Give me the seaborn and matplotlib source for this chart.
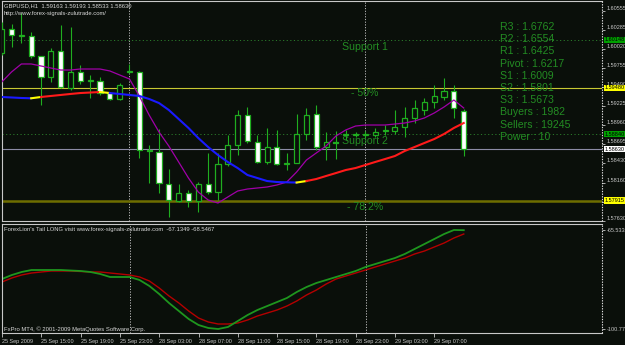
import numpy as np
import pandas as pd
import matplotlib
matplotlib.use("Agg")
import matplotlib.pyplot as plt
import matplotlib.transforms as mtrans
import seaborn as sns

# ---------------- data (GBPUSD H1) ----------------
bar_times = (list(pd.date_range("2009-09-25 11:00", "2009-09-25 23:00", freq="h")) +
             list(pd.date_range("2009-09-28 00:00", "2009-09-28 23:00", freq="h")) +
             list(pd.date_range("2009-09-29 00:00", "2009-09-29 10:00", freq="h")))

opens = [1.59967, 1.60301, 1.60203, 1.60203, 1.59925, 1.59633, 1.59995, 1.59480, 1.59703, 1.59577,
         1.59577, 1.59410, 1.59327, 1.59703, 1.59703, 1.58617, 1.58590, 1.58144, 1.57908, 1.58019,
         1.57908, 1.58144, 1.58033, 1.58423, 1.58687, 1.59104, 1.58729, 1.58451, 1.58659, 1.58423,
         1.58437, 1.58840, 1.59118, 1.58659, 1.58729, 1.58826, 1.58826, 1.58826, 1.58826, 1.58882,
         1.58882, 1.58937, 1.59063, 1.59174, 1.59285, 1.59355, 1.59438, 1.59163]
highs = [1.60398, 1.60370, 1.60523, 1.60259, 1.59925, 1.60037, 1.60357, 1.60329, 1.59800, 1.59661,
         1.59633, 1.59424, 1.59550, 1.59814, 1.59717, 1.58687, 1.58910, 1.58353, 1.58144, 1.58061,
         1.58172, 1.58576, 1.58576, 1.58826, 1.59174, 1.59216, 1.58826, 1.58924, 1.58896, 1.58576,
         1.59118, 1.59202, 1.59243, 1.58868, 1.58882, 1.58896, 1.58868, 1.58882, 1.58924, 1.58965,
         1.59174, 1.59216, 1.59313, 1.59341, 1.59522, 1.59619, 1.59522, 1.59193]
lows = [1.59939, 1.60050, 1.60106, 1.59897, 1.59243, 1.59563, 1.59480, 1.59452, 1.59536, 1.59341,
        1.59383, 1.59313, 1.59313, 1.59689, 1.58506, 1.58158, 1.58019, 1.57685, 1.57894, 1.57824,
        1.57755, 1.58005, 1.57922, 1.58395, 1.58548, 1.58715, 1.58437, 1.58423, 1.58409, 1.58339,
        1.58437, 1.58757, 1.58617, 1.58478, 1.58492, 1.58757, 1.58798, 1.58784, 1.58798, 1.58826,
        1.58840, 1.58798, 1.58993, 1.59104, 1.59202, 1.59313, 1.59063, 1.58533]
closes = [1.60301, 1.60217, 1.60217, 1.59925, 1.59633, 1.59995, 1.59494, 1.59703, 1.59577, 1.59591,
          1.59410, 1.59327, 1.59522, 1.59717, 1.58617, 1.58604, 1.58158, 1.57922, 1.58019, 1.57908,
          1.58144, 1.58033, 1.58423, 1.58687, 1.59104, 1.58743, 1.58451, 1.58659, 1.58423, 1.58437,
          1.58840, 1.59104, 1.58659, 1.58729, 1.58715, 1.58840, 1.58830, 1.58840, 1.58868, 1.58886,
          1.58937, 1.59063, 1.59202, 1.59285, 1.59369, 1.59438, 1.59202, 1.58630]

ma_slow = [1.59355, 1.59348, 1.59341, 1.59337, 1.59355, 1.59369, 1.59383, 1.59397, 1.59410, 1.59417,
           1.59424, 1.59410, 1.59397, 1.59383, 1.59369, 1.59327, 1.59271, 1.59174, 1.59049, 1.58924,
           1.58784, 1.58659, 1.58548, 1.58451, 1.58367, 1.58270, 1.58228, 1.58186, 1.58172, 1.58168,
           1.58165, 1.58186, 1.58214, 1.58256, 1.58297, 1.58339, 1.58367, 1.58409, 1.58451, 1.58492,
           1.58534, 1.58604, 1.58659, 1.58715, 1.58770, 1.58840, 1.58924, 1.58993]
ma_fast = [1.59563, 1.59703, 1.59814, 1.59814, 1.59786, 1.59758, 1.59730, 1.59730, 1.59744, 1.59744,
           1.59744, 1.59717, 1.59661, 1.59605, 1.59369, 1.59104, 1.58868, 1.58673, 1.58451, 1.58228,
           1.58033, 1.57922, 1.57880, 1.57964, 1.58047, 1.58075, 1.58089, 1.58103, 1.58131, 1.58172,
           1.58311, 1.58478, 1.58576, 1.58673, 1.58812, 1.58896, 1.58951, 1.58965, 1.58965, 1.58965,
           1.58979, 1.58993, 1.59021, 1.59063, 1.59132, 1.59216, 1.59313, 1.59202]

tail_green = [-82.97, -81.55, -80.48, -79.77, -79.77, -79.77, -79.77, -79.95, -80.12, -80.48,
              -81.19, -82.26, -82.26, -82.26, -83.33, -85.46, -88.31, -91.51, -94.36, -97.21,
              -99.34, -100.41, -100.77, -100.05, -97.92, -95.78, -94.00, -92.58, -91.16, -89.73,
              -87.60, -85.82, -84.39, -83.33, -82.26, -81.19, -80.12, -78.70, -77.63, -76.57,
              -75.50, -74.07, -72.29, -70.52, -68.74, -66.96, -65.53, -65.60]
tail_red = [-84.04, -82.61, -81.55, -80.84, -80.48, -80.12, -80.12, -80.12, -80.30, -80.48,
            -80.48, -80.84, -81.19, -81.55, -82.26, -83.68, -86.17, -89.02, -91.51, -94.36,
            -96.85, -98.27, -98.99, -98.99, -98.63, -97.56, -96.14, -95.07, -94.00, -92.58,
            -90.80, -88.66, -86.89, -84.75, -82.97, -81.90, -80.84, -79.77, -78.70, -77.63,
            -76.57, -75.50, -74.07, -73.01, -71.58, -70.16, -68.38, -66.96]

fib_50 = 1.59480
fib_782 = 1.57915
support_1 = 1.60148
support_2 = 1.58840
bid = 1.58630

price_ticks = [1.60555, 1.60285, 1.60020, 1.59755, 1.59490, 1.59225, 1.58960, 1.58695,
               1.58430, 1.58160, 1.57895, 1.57630]
tail_ticks = [-65.533, -100.773]
x_tick_bars = [0, 4, 8, 12, 16, 20, 24, 28, 32, 36, 40, 44]
x_tick_labels = ["25 Sep 2009", "25 Sep 15:00", "25 Sep 19:00", "25 Sep 23:00", "28 Sep 03:00",
                 "28 Sep 07:00", "28 Sep 11:00", "28 Sep 15:00", "28 Sep 19:00", "28 Sep 23:00",
                 "29 Sep 03:00", "29 Sep 07:00"]
day_separators = [13, 37]

pivot_lines = ["R3 : 1.6762", "R2 : 1.6554", "R1 : 1.6425", "Pivot : 1.6217", "S1 : 1.6009",
               "S2 : 1.5801", "S3 : 1.5673", "Buyers : 1982", "Sellers : 19245", "Power : 10"]

header = "GBPUSD,H1  1.59163 1.59193 1.58533 1.58630"
url = "http://www.forex-signals-zulutrade.com/"
ind_title = "ForexLion's Tail LONG visit www.forex-signals-zulutrade.com  -67.1349 -68.5467"
copyright_txt = "FxPro MT4, \u00a9 2001-2009 MetaQuotes Software Corp."

# ---------------- style ----------------
BG = "#0a0f0a"
GRN = "#1fae1f"
TXTG = "#238c23"
GREY = "#c8c8c8"
FONT = ["Liberation Sans", "DejaVu Sans"]
plt.rcParams["font.family"] = FONT

W, H = 625, 345
def frame(x0, y0, x1, y1):
    return [x0 / W, 1 - y1 / H, (x1 - x0) / W, (y1 - y0) / H]

fig = plt.figure(figsize=(6.25, 3.45), dpi=100, facecolor=BG)
ax1 = fig.add_axes(frame(2, 1, 602, 221))
ax2 = fig.add_axes(frame(2, 224, 602, 333))

PX_PER_BAR = 9.83
x0_bar = (2 - 1.7) / PX_PER_BAR
x1_bar = (602 - 1.7) / PX_PER_BAR

for ax in (ax1, ax2):
    ax.set_facecolor(BG)
    ax.set_xlim(x0_bar, x1_bar)
    for s in ("left", "top", "bottom"):
        ax.spines[s].set_color(GREY)
        ax.spines[s].set_linewidth(0.8)
    ax.spines["right"].set_visible(False)
    ax.axvline(x1_bar, color="#e0e0e0", lw=0.8, ls=(0, (1.2, 1.2)), clip_on=False, zorder=6)
    for d in day_separators:
        ax.axvline(d, color="#bdbdbd", lw=0.7, ls=(0, (1.2, 1.6)), zorder=1)

ax1.set_ylim(1.57630, 1.60690)
ax2.set_ylim(-102.19, -63.40)

idx = np.arange(len(opens))
o = np.array(opens); h = np.array(highs); l = np.array(lows); c = np.array(closes)

# horizontal levels
ax1.axhline(fib_50, color="#c8c832", lw=0.8, zorder=2)
ax1.axhline(fib_782, color="#6e6e00", lw=1.8, zorder=2)
ax1.axhline(support_1, color="#2a7a2a", lw=0.7, ls=(0, (1.2, 2.5)), zorder=2)
ax1.axhline(support_2, color="#2a7a2a", lw=0.7, ls=(0, (1.2, 2.5)), zorder=2)
ax1.axhline(bid, color="#8c8ca6", lw=0.8, zorder=2)

# candles
ax1.vlines(idx, l, h, color=GRN, lw=0.8, zorder=3)
bull = c >= o
body_lo = np.minimum(o, c)
body_h = np.maximum(np.abs(c - o), 0.00008)
ax1.bar(idx, body_h, bottom=body_lo, width=0.52,
        color=np.where(bull, BG, "white"), edgecolor=GRN, linewidth=0.9, zorder=4)

# fast MA (magenta)
sns.lineplot(x=idx, y=ma_fast, ax=ax1, color="#a000a8", lw=0.9, zorder=5, legend=False)

# slow MA coloured by slope
ms = np.array(ma_slow)
d = np.diff(ms)
seg_cols = []
for k in range(len(d)):
    col = "#ff1a1a" if d[k] > 0 else "#1a1aff"
    if k > 0 and np.sign(d[k]) != np.sign(d[k - 1]):
        col = "#ffff00"
    seg_cols.append(col)
start = 0
for k in range(1, len(seg_cols) + 1):
    if k == len(seg_cols) or seg_cols[k] != seg_cols[start]:
        xs = idx[start:k + 1]
        sns.lineplot(x=xs, y=ms[start:k + 1], ax=ax1, color=seg_cols[start], lw=1.5,
                     zorder=5, legend=False)
        start = k

# indicator window
sns.lineplot(x=idx, y=tail_red, ax=ax2, color="#b40000", lw=1.0, legend=False)
sns.lineplot(x=idx, y=tail_green, ax=ax2, color="#1e961e", lw=1.3, legend=False)

# right price axis
ax1.yaxis.tick_right()
ax1.set_yticks(price_ticks)
ax1.set_yticklabels([f"{v:.5f}" for v in price_ticks], va="bottom")
ax1.tick_params(axis="y", direction="out", length=2.5, width=0.6, colors=GREY, labelsize=4, pad=1)
ax2.yaxis.tick_right()
ax2.set_yticks(tail_ticks)
ax2.set_yticklabels(["-65.533", "-100.773"])
ax2.tick_params(axis="y", direction="out", length=2.5, width=0.6, colors=GREY, labelsize=4, pad=1)

ax1.set_xticks([])
ax2.set_xticks(x_tick_bars)
ax2.set_xticklabels(x_tick_labels, ha="left")
ax2.tick_params(axis="x", direction="out", length=3, width=0.6, colors=GREY, labelsize=4, pad=1)
ax1.set_xlabel(""); ax1.set_ylabel(""); ax2.set_xlabel(""); ax2.set_ylabel("")

# highlighted price labels
tr = mtrans.blended_transform_factory(ax1.transAxes, ax1.transData)
def tag(val, fc, tc="black"):
    ax1.text(1.004, val, f"{val:.5f}", transform=tr, fontsize=4, color=tc, va="center", ha="left",
             clip_on=False, zorder=10,
             bbox=dict(boxstyle="square,pad=0.15", fc=fc, ec="none"))
tag(support_1, "#00a000")
tag(fib_50, "#ffff00")
tag(support_2, "#00a000")
tag(bid, "white")
tag(fib_782, "#ffff00")

# texts
def axpos(px, py, y0=1, y1=221):
    return ((px - 2) / 600, (y1 - py) / (y1 - y0))
for i, t in enumerate(pivot_lines):
    py = 27 + i * 12.2
    xa, ya = axpos(500, py)
    ax1.text(xa, ya, t, transform=ax1.transAxes, fontsize=7.6, color=TXTG, va="center", ha="left", zorder=8)
for t, px, py in [("Support 1", 342, 47), ("- 50%", 351, 93.5), ("Support 2", 342, 141), ("- 78.2%", 347, 207.5)]:
    xa, ya = axpos(px, py)
    ax1.text(xa, ya, t, transform=ax1.transAxes, fontsize=7.6, color=TXTG, va="center", ha="left", zorder=8)
xa, ya = axpos(4, 5.5)
ax1.text(xa, ya, header, transform=ax1.transAxes, fontsize=4.2, color="#d8d8d8", va="center", ha="left", zorder=9)
xa, ya = axpos(4, 13)
ax1.text(xa, ya, url, transform=ax1.transAxes, fontsize=4.2, color="#d8d8d8", va="center", ha="left", zorder=9)
ax2.text(2 / 600, (333 - 230) / 109, ind_title, transform=ax2.transAxes, fontsize=4.2, color="#d8d8d8",
         va="center", ha="left", zorder=9)
ax2.text(2 / 600, (333 - 329) / 109, copyright_txt, transform=ax2.transAxes, fontsize=4.2, color="#d8d8d8",
         va="center", ha="left", zorder=9)

fig.savefig("out.png", dpi=100, facecolor=BG)
